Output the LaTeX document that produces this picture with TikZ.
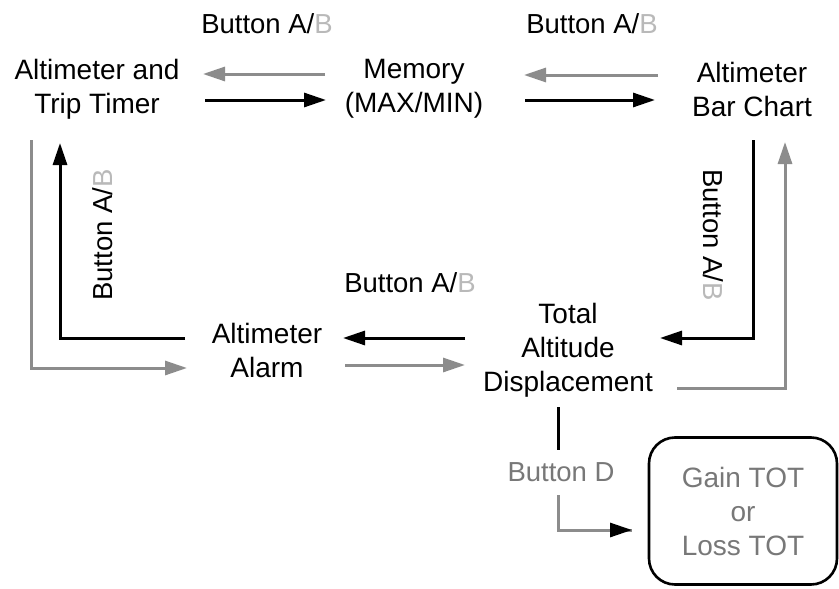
\documentclass[tikz,border=0pt]{standalone}
\usepackage{fontspec}
\setmainfont{Liberation Sans}
\usetikzlibrary{arrows.meta,calc}
\definecolor{lgrey}{RGB}{140,140,140}
\definecolor{pgrey}{RGB}{185,185,185}
\definecolor{tgrey}{RGB}{120,120,120}
\tikzset{
  lbl/.style={font=\fontsize{28}{34}\selectfont, align=center, inner sep=0pt},
  sm/.style={font=\fontsize{27.5}{32}\selectfont, inner sep=0pt},
  blk/.style={line width=3pt, draw=black, -{Triangle[length=22pt,width=14pt]}},
  gry/.style={line width=3pt, draw=lgrey, -{Triangle[length=22pt,width=14pt]}},
  plain/.style={line width=3pt, draw=black},
}
\newcommand{\btnAB}{Button A/{\color{pgrey}B}}
\begin{document}
\begin{tikzpicture}[x=1pt,y=-1pt]
\useasboundingbox (0,0) rectangle (839,589);
\fill[white] (0,0) rectangle (839,589);

% nodes
\node[lbl] (att) at (97,89) {Altimeter and\\Trip Timer};
\node[lbl] (mem) at (414,89) {Memory\\(MAX/MIN)};
\node[lbl] (bar) at (752,89) {Altimeter\\Bar Chart};
\node[lbl] (alarm) at (267,350) {Altimeter\\Alarm};
\node[lbl] (tad) at (568,350) {Total\\Altitude\\Displacement};
\node[lbl, text=tgrey, draw=black, line width=2.6pt, rounded corners=26pt,
      minimum width=188pt, minimum height=147pt] (tot) at (743,511) {Gain TOT\\or\\Loss TOT};

% labels
\node[sm] (l1) at (267,24) {\btnAB};
\node[sm] (l2) at (592,24) {\btnAB};
\node[sm] (l3) at (410,283) {\btnAB};
\node[sm, rotate=90] (l4) at (103,235) {\btnAB};
\node[sm, rotate=-90] (l5) at (713,235) {\btnAB};
\node[sm, text=tgrey] (l6) at (561,472) {Button D};

% coordinates
\coordinate (a1) at (325,74);  \coordinate (a2) at (203,74);
\coordinate (a3) at (205,100); \coordinate (a4) at (326,100);
\coordinate (b1) at (658,75);  \coordinate (b2) at (524,75);
\coordinate (b3) at (525,100); \coordinate (b4) at (655,100);
\coordinate (c1) at (31,140);  \coordinate (c2) at (31,368); \coordinate (c3) at (187,368);
\coordinate (d1) at (185,338); \coordinate (d2) at (60,338); \coordinate (d3) at (60,143);
\coordinate (e1) at (465,338); \coordinate (e2) at (343,338);
\coordinate (e3) at (345,365); \coordinate (e4) at (465,365);
\coordinate (f1) at (753,140); \coordinate (f2) at (753,338); \coordinate (f3) at (660,338);
\coordinate (g1) at (677,388); \coordinate (g2) at (785,388); \coordinate (g3) at (785,142);
\coordinate (h1) at (558,407); \coordinate (h2) at (558,450);
\coordinate (h3) at (558,495); \coordinate (h4) at (558,530); \coordinate (h5) at (632,530);

% connectors
\draw[gry] (a1) -- (a2);
\draw[blk] (a3) -- (a4);
\draw[gry] (b1) -- (b2);
\draw[blk] (b3) -- (b4);
\draw[gry] (c1) -- (c2) -- (c3);
\draw[blk] (d1) -- (d2) -- (d3);
\draw[blk] (e1) -- (e2);
\draw[gry] (e3) -- (e4);
\draw[blk] (f1) -- (f2) -- (f3);
\draw[gry] (g1) -- (g2) -- (g3);
\draw[plain] (h1) -- (h2);
\draw[line width=3pt, draw=lgrey] (h3) -- (h4) -- (h5);
\draw[blk] ($(h4)!0.7!(h5)$) -- (h5);
\end{tikzpicture}
\end{document}
